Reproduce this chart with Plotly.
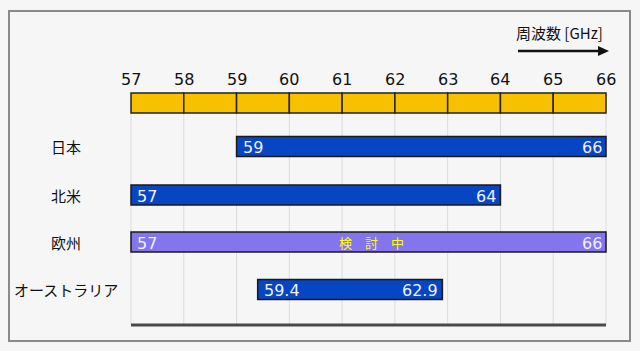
import plotly.graph_objects as go

# ---- data ----
regions = ["日本", "北米", "欧州", "オーストラリア"]
start_ghz = [59, 57, 57, 59.4]
end_ghz = [66, 64, 66, 62.9]
start_labels = ["59", "57", "57", "59.4"]
end_labels = ["66", "64", "66", "62.9"]
status_notes = ["", "", "検　討　中", ""]
tick_values = [57, 58, 59, 60, 61, 62, 63, 64, 65, 66]
tick_labels = ["57", "58", "59", "60", "61", "62", "63", "64", "65", "66"]
axis_title = "周波数 [GHz]"

# ---- layout / style ----
W, H = 640, 351
px57, px66 = 131, 606
ghz_per_px = (66 - 57) / (px66 - px57)
x_lo = 57 - px57 * ghz_per_px
x_hi = x_lo + W * ghz_per_px

row_y = [146.5, 195, 242, 289.5]
bar_h = 20
band_y, band_h = 103, 20
tick_label_y = 79
grid_top, grid_bot = 113, 325

BLUE = "#0646c2"
PURPLE = "#8474ee"
YELLOW = "#f7c100"
bar_colors = [BLUE, BLUE, PURPLE, BLUE]

num_font = "DejaVu Sans, Verdana, sans-serif"
jp_font = "Noto Sans CJK JP, sans-serif"

fig = go.Figure()

shapes = []
for t in tick_values:
    shapes.append(dict(type="line", xref="x", yref="y", x0=t, x1=t, y0=grid_top, y1=grid_bot,
                       line=dict(color="#dcdcdc", width=1), layer="below"))
shapes.append(dict(type="line", xref="x", yref="y", x0=57, x1=66, y0=325, y1=325,
                   line=dict(color="#4a4a4a", width=3)))
shapes.append(dict(type="rect", xref="paper", yref="paper", x0=9 / W, x1=630 / W,
                   y0=1 - 341 / H, y1=1 - 11 / H, line=dict(color="#8a8a8a", width=2),
                   fillcolor="rgba(0,0,0,0)", layer="below"))
shapes.append(dict(type="line", xref="paper", yref="y", x0=518 / W, x1=600 / W, y0=51, y1=51,
                   line=dict(color="#111111", width=2.5)))
shapes.append(dict(type="path", xref="paper", yref="paper",
                   path=f"M {598/W} {1-46/H} L {609/W} {1-51/H} L {598/W} {1-56/H} Z",
                   fillcolor="#111111", line=dict(color="#111111", width=0)))

fig.add_trace(go.Bar(
    orientation="h",
    base=tick_values[:-1],
    x=[tick_values[i + 1] - tick_values[i] for i in range(len(tick_values) - 1)],
    y=[band_y] * (len(tick_values) - 1),
    width=band_h,
    marker=dict(color=YELLOW, line=dict(color="#222222", width=1.5)),
    hoverinfo="skip", showlegend=False,
))

fig.add_trace(go.Bar(
    orientation="h",
    base=start_ghz,
    x=[e - s for s, e in zip(start_ghz, end_ghz)],
    y=row_y,
    width=bar_h,
    marker=dict(color=bar_colors, line=dict(color="#1a1a1a", width=1.5)),
    hoverinfo="skip", showlegend=False,
))

annotations = []
for t, lab in zip(tick_values, tick_labels):
    annotations.append(dict(x=t, y=tick_label_y, xref="x", yref="y", text=lab, showarrow=False,
                            xanchor="center", yanchor="middle",
                            font=dict(family=num_font, size=16, color="#111111")))
for i, name in enumerate(regions):
    annotations.append(dict(x=66 / W, y=row_y[i], xref="paper", yref="y", text=name, showarrow=False,
                            xanchor="center", yanchor="middle",
                            font=dict(family=jp_font, size=15, color="#111111")))
    annotations.append(dict(x=start_ghz[i], y=row_y[i] + 1, xref="x", yref="y", text=start_labels[i],
                            showarrow=False, xanchor="left", yanchor="middle", xshift=4,
                            font=dict(family=num_font, size=16, color="#f0f0ff")))
    annotations.append(dict(x=end_ghz[i], y=row_y[i] + 1, xref="x", yref="y", text=end_labels[i],
                            showarrow=False, xanchor="right", yanchor="middle", xshift=-2,
                            font=dict(family=num_font, size=16, color="#f0f0ff")))
    if status_notes[i]:
        annotations.append(dict(x=371 / W, y=row_y[i], xref="paper", yref="y", text=status_notes[i],
                                showarrow=False, xanchor="center", yanchor="middle",
                                font=dict(family=jp_font, size=13, color="#ffff00")))
annotations.append(dict(x=559 / W, y=32, xref="paper", yref="y", text=axis_title, showarrow=False,
                        xanchor="center", yanchor="middle",
                        font=dict(family=jp_font, size=15, color="#111111")))

fig.update_layout(
    width=W, height=H,
    margin=dict(l=0, r=0, t=0, b=0),
    paper_bgcolor="#f6f6f6", plot_bgcolor="#f6f6f6",
    barmode="overlay",
    xaxis=dict(range=[x_lo, x_hi], visible=False, fixedrange=True),
    yaxis=dict(range=[H, 0], visible=False, fixedrange=True),
    shapes=shapes, annotations=annotations,
    showlegend=False,
)

fig.write_html("out.html")
